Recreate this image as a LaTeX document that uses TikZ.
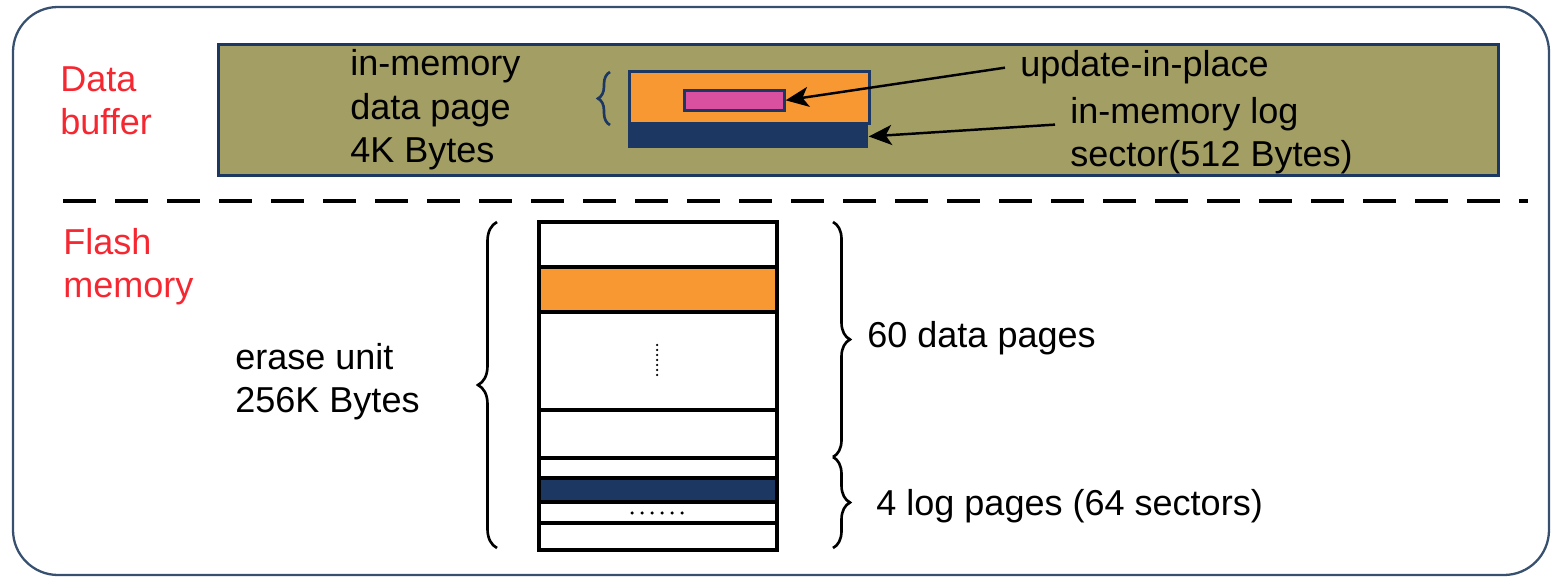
\documentclass[tikz,border=0pt]{standalone}
\usepackage{fontspec}
\setmainfont{Liberation Sans}
\usetikzlibrary{arrows.meta,decorations.pathreplacing,positioning}
\definecolor{olivebuf}{RGB}{163,158,99}
\definecolor{pageorange}{RGB}{247,152,50}
\definecolor{lognavy}{RGB}{28,55,98}
\definecolor{updpink}{RGB}{217,80,160}
\definecolor{framegray}{RGB}{55,80,112}
\definecolor{labelred}{RGB}{245,40,50}
\tikzset{
	txt/.style={font=\fontsize{20.5}{25}\selectfont, inner sep=0pt, align=left, anchor=base west},
	sidelabel/.style={txt, text=labelred},
	ptr/.style={-{Stealth[length=4.6mm,width=4mm,inset=1.2mm]}, line width=1.4pt},
	curly/.style={decorate, decoration={brace, amplitude=#1}, line width=1.5pt},
	curly/.default=3.6mm,
	pagebox/.style={inner sep=0pt, anchor=north west}
}
\begin{document}
\begin{tikzpicture}[x=0.2mm,y=-0.2mm]
		\useasboundingbox (0,0) rectangle (1553,577);
		\draw[framegray, line width=1.3pt, rounded corners=9mm] (13,7) rectangle (1549,575);
		% data buffer
		\node[pagebox, draw=lognavy, line width=1.7pt, fill=olivebuf, minimum width=256mm, minimum height=26.2mm] (buf) at (217,43) {};
		\node[pagebox, fill=pageorange, draw=lognavy, line width=1.5pt, minimum width=48mm, minimum height=10.4mm] (page) at (628,70) {};
		\node[pagebox, fill=lognavy, minimum width=48mm, minimum height=4.6mm] (logsec) at (page.south west) {};
		\node[pagebox, fill=updpink, draw=lognavy, line width=1.5pt, minimum width=20mm, minimum height=4mm] (rec) at (683,89) {};
		\draw[curly=2.4mm, lognavy] (610,125) -- (610,72);
		\node[sidelabel] (dbuf) at (60,135) {Data\\buffer};
		\node[txt] (dpage) at (350,163) {in-memory\\data page\\4K Bytes};
		\node[txt] (upd) at (1020,77) {update-in-place};
		\node[txt] (logtxt) at (1070,167) {in-memory log\\sector(512 Bytes)};
		\draw[ptr] ([xshift=-3mm]upd.west) -- (rec.east);
		\draw[ptr] ([xshift=-3mm,yshift=-5.6mm]logtxt.north west) -- (logsec.east);
		\draw[line width=2.6pt, dash pattern=on 6.6mm off 3.8mm] (63,201) -- (1528,201);
		% flash memory
		\node[sidelabel] (flash) at (63,298) {Flash\\memory};
		\fill[pageorange] (537,267) rectangle (775,312);
		\fill[lognavy] (537,478) rectangle (775,502);
		\foreach \y in {267,312,410,458,478,502,523}
			\draw[line width=2pt] (537,\y) -- (775,\y);
		\node[pagebox, draw, line width=2pt, minimum width=47.6mm, minimum height=65.6mm] (eblock) at (537,220) {};
		\foreach \y in {345,350,...,375}
			\fill (657,\y) circle (0.25mm);
		\foreach \x in {632,642,...,682}
			\fill (\x,513) circle (0.35mm);
		\draw[curly=3.8mm] (497,548) -- (497,222);
		\draw[curly=3.4mm] (833,222) -- (833,457);
		\draw[curly=3.4mm] (833,457) -- (833,548);
		\node[txt] (erase) at (235,413) {erase unit\\256K Bytes};
		\node[txt] (dpages) at (867,348) {60 data pages};
		\node[txt] (lpages) at (876,515) {4 log pages (64 sectors)};
\end{tikzpicture}
\end{document}
